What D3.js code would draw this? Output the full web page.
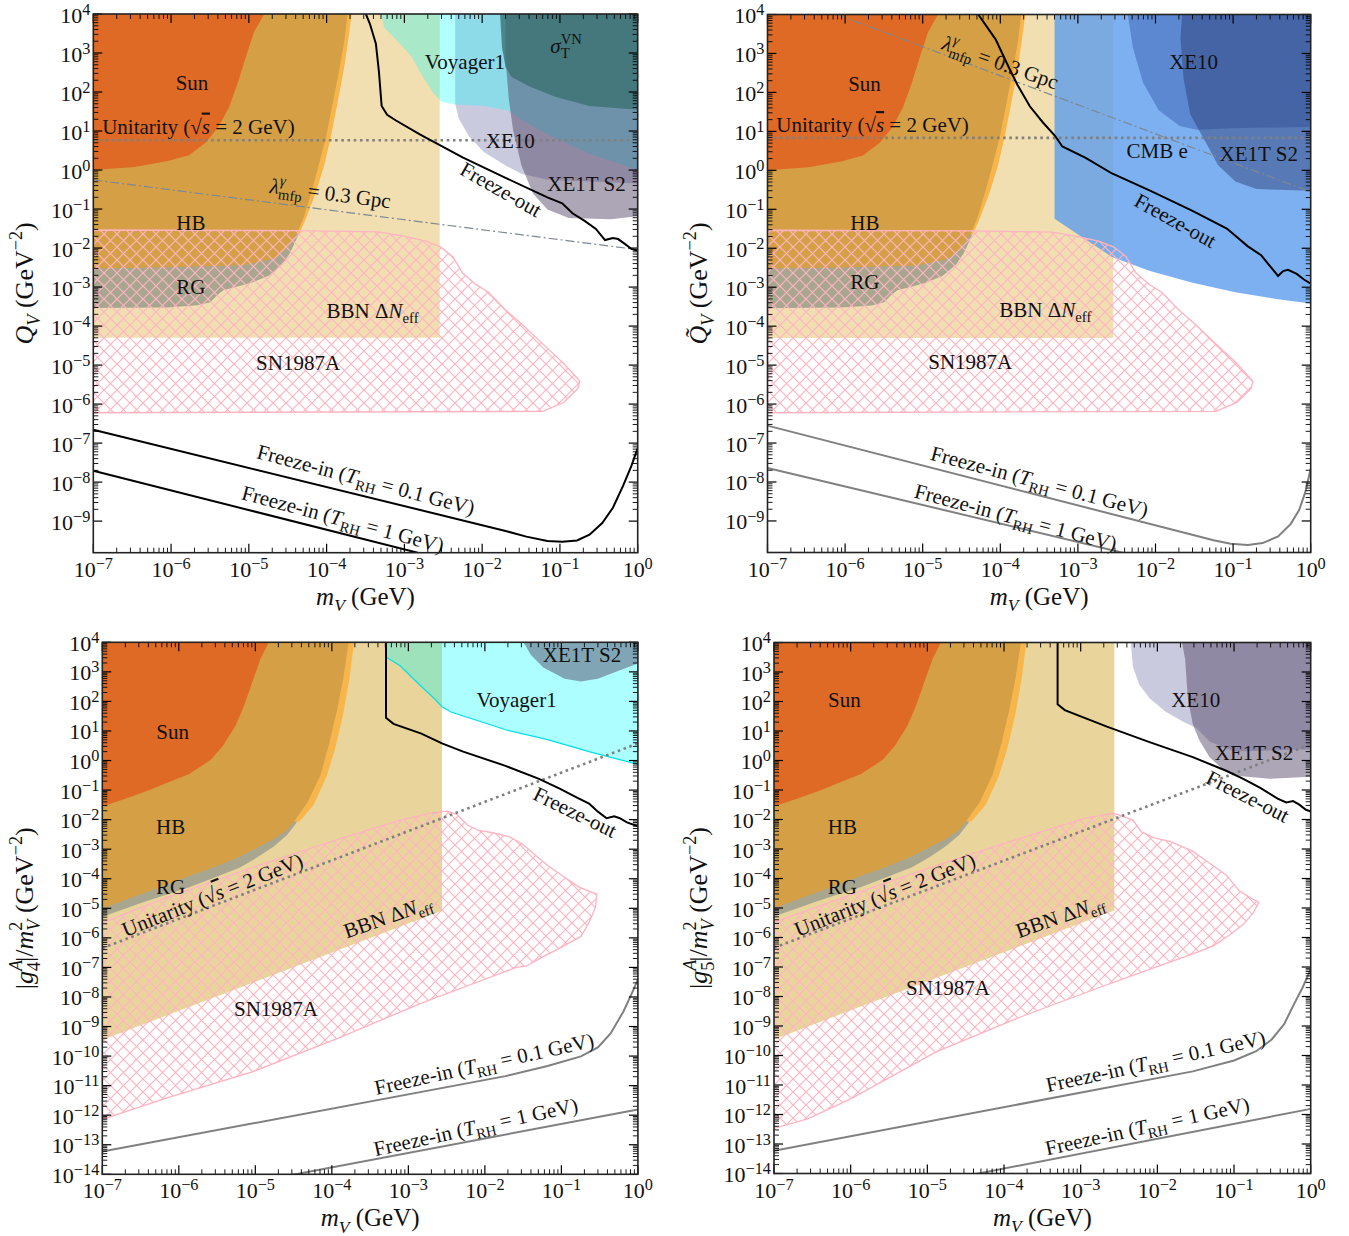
<!DOCTYPE html>
<html><head><meta charset="utf-8">
<script src="https://cdn.jsdelivr.net/npm/d3@7"></script>
<style>
body{margin:0;background:#fff;}
svg text{font-family:"Liberation Serif","DejaVu Serif",serif;fill:#111;}
</style></head><body>
<script>
// ---------------- DATA (mass in GeV, coupling in GeV^-2) ----------------
const X_TICKS=[1e-7,1e-6,1e-5,1e-4,1e-3,1e-2,1e-1,1];
const X_TICK_EXP=['−7','−6','−5','−4','−3','−2','−1','0'];
const Y_TICKS_TOP=[1e4,1e3,1e2,1e1,1,1e-1,1e-2,1e-3,1e-4,1e-5,1e-6,1e-7,1e-8,1e-9];
const Y_EXP_TOP=['4','3','2','1','0','−1','−2','−3','−4','−5','−6','−7','−8','−9'];
const Y_TICKS_BOT=[1e4,1e3,1e2,1e1,1,1e-1,1e-2,1e-3,1e-4,1e-5,1e-6,1e-7,1e-8,1e-9,1e-10,1e-11,1e-12,1e-13,1e-14];
const Y_EXP_BOT=['4','3','2','1','0','−1','−2','−3','−4','−5','−6','−7','−8','−9','−10','−11','−12','−13','−14'];

// top row shared (Q_V and Q~_V)
const sunTop=[[1e-7,1e4],[1e-7,1.0],[3.4e-7,1.2],[9.1e-7,1.7],[1.7e-6,2.4],[2.8e-6,5.1],[4.1e-6,13],[5.6e-6,42],[7.2e-6,170],[9.3e-6,870],[1.17e-5,3500],[1.58e-5,1e4]];
const hbTop=[[1e-7,1e4],[1.86e-4,1e4],[1.7e-4,2200],[1.44e-4,340],[1.2e-4,52],[1.0e-4,8.1],[7.9e-5,1.3],[6.3e-5,0.25],[5.1e-5,0.062],[4.2e-5,0.0245],[3.2e-5,0.0107],[2.1e-5,0.0054],[8.7e-6,0.0036],[9.1e-7,0.0032],[1e-7,0.003]];
const bandTop=[[1e-7,1e4],[2.1e-4,1e4],[1.9e-4,2200],[1.65e-4,340],[1.38e-4,52],[1.15e-4,8.1],[9.3e-5,1.3],[7.2e-5,0.25],[5.5e-5,0.062],[4.4e-5,0.022],[4.0e-5,0.03],[1e-7,0.03]];
const rgTop=[[1e-7,2.9e-4],[9.1e-7,3.0e-4],[2.2e-6,3.4e-4],[3.2e-6,4.1e-4],[3.9e-6,6.2e-4],[4.7e-6,8.3e-4],[6.8e-6,1e-3],[1.1e-5,1.3e-3],[1.8e-5,1.95e-3],[2.7e-5,3.8e-3],[3.4e-5,7.6e-3],[4.3e-5,0.021],[4.0e-5,0.05],[1e-7,0.05]];
const bbnTop=[[1e-7,1e4],[2.85e-3,1e4],[2.85e-3,5.0e-5],[1e-7,5.0e-5]];
const snTop=[[1e-7,0.029],[3.9e-5,0.028],[4.7e-4,0.026],[1e-3,0.020],[1.9e-3,0.015],[2.9e-3,0.0107],[4.2e-3,0.006],[5.6e-3,2.3e-3],[8.3e-3,1.17e-3],[0.012,7.4e-4],[0.02,2.6e-4],[0.032,1.15e-4],[0.06,3.5e-5],[0.112,1.1e-5],[0.18,3.9e-6],[0.17,2.5e-6],[0.112,1.1e-6],[0.06,6.5e-7],[1e-7,6.0e-7]];

// panel 1: Q_V
const voyagerQ=[[5.0e-4,1e4],[5.5e-4,4500],[7.8e-4,2200],[1.2e-3,870],[1.74e-3,240],[2.35e-3,95],[3.0e-3,56],[4.5e-3,48],[0.0105,44],[0.022,33],[0.037,16.6],[0.069,8.1],[0.24,2.6],[1,1.0],[1,1e4]];
const xe10Q=[[4.5e-3,1e4],[4.5e-3,50],[5.0e-3,21],[6.8e-3,7.2],[0.0105,2.9],[0.02,1.3],[0.032,0.8],[0.069,0.56],[1,0.45],[1,1e4]];
const xe1tQ=[[0.02,1e4],[0.02,690],[0.022,66],[0.025,10.5],[0.032,1.3],[0.045,0.25],[0.069,0.098],[0.13,0.059],[0.45,0.055],[1,0.065],[1,1e4]];
const sigmaQ=[[0.017,1e4],[0.018,1380],[0.02,430],[0.024,240],[0.042,135],[0.087,76],[0.24,44],[1,35],[1,1e4]];
const freezeOutQ=[[3.2e-4,1e4],[3.6e-4,5600],[4.3e-4,1740],[4.7e-4,340],[5.1e-4,44],[6.0e-4,26],[7.8e-4,18.6],[1.6e-3,8.1],[5.6e-3,2.1],[0.02,0.63],[0.069,0.2],[0.107,0.14],[0.145,0.078],[0.21,0.049],[0.29,0.031],[0.38,0.016],[0.48,0.018],[0.56,0.017],[0.69,0.0126],[0.83,0.0095],[1,0.0085]];
const freezeIn01Q=[[1e-7,2.2e-7],[0.02,5.6e-10],[0.037,4e-10],[0.069,3.1e-10],[0.107,2.95e-10],[0.166,3.2e-10],[0.24,4.5e-10],[0.35,8.9e-10],[0.48,2.2e-9],[0.65,8.1e-9],[0.83,2.6e-8],[1,7.4e-8]];
const freezeIn1Q=[[1e-7,1.95e-8],[3.2e-3,1.05e-10]];
const lambdaQ=[[1e-7,0.56],[1,0.0091]];
const unitQ=[[1e-7,5.8],[1,5.8]];

// panel 2: Q~_V
const cmbQt=[[5.0e-4,1e4],[5.0e-4,0.057],[1.1e-3,0.02],[2.75e-3,6.0e-3],[8.5e-3,2.6e-3],[0.03,1.3e-3],[0.107,7.4e-4],[0.38,4.9e-4],[1,3.8e-4],[1,1e4]];
const xe10Qt=[[4.4e-3,1e4],[5.1e-3,1450],[6.9e-3,180],[0.011,35],[0.0205,13.8],[0.034,11],[0.1,12],[1,13],[1,1e4]];
const xe1tQt=[[0.022,1e4],[0.021,2300],[0.023,220],[0.028,28],[0.036,11],[0.047,4.3],[0.064,1.35],[0.107,0.52],[0.2,0.33],[1,0.3],[1,1e4]];
const freezeOutQt=[[5.2e-5,1e4],[8.7e-5,2300],[1.28e-4,450],[1.66e-4,158],[2.4e-4,44],[3.5e-4,17.4],[5.1e-4,7.6],[6.3e-4,4.1],[1.26e-3,2.1],[2.75e-3,0.83],[8.5e-3,0.30],[0.03,0.091],[0.083,0.032],[0.107,0.021],[0.155,0.0112],[0.23,6.6e-3],[0.31,3.2e-3],[0.38,1.95e-3],[0.44,2.6e-3],[0.51,2.8e-3],[0.66,2.2e-3],[0.81,1.6e-3],[1,1.23e-3]];
const freezeIn01Qt=[[1e-7,2.8e-7],[0.056,3.2e-10],[0.093,2.6e-10],[0.155,2.4e-10],[0.24,2.7e-10],[0.38,4e-10],[0.55,8.3e-10],[0.71,1.9e-9],[0.85,5.4e-9],[1,2.2e-8]];
const freezeIn1Qt=[[1e-7,2.3e-8],[6.3e-3,1.2e-10]];
const lambdaQt=[[7.8e-7,1e4],[1,0.28]];
const unitQt=[[1e-7,6.8],[1,6.8]];

// bottom row shared (g4, g5)
const sunBot=[[1e-7,1e4],[1e-7,0.028],[2.0e-7,0.051],[3.9e-7,0.095],[7.2e-7,0.18],[1.37e-6,0.35],[2.6e-6,1.05],[3.8e-6,3.2],[5.5e-6,15],[7.1e-6,70],[9.1e-6,440],[1.17e-5,2750],[1.5e-5,1e4]];
const hbBot=[[1e-7,1e4],[1e-7,9.8e-6],[3.9e-7,3.6e-5],[1.37e-6,1.23e-4],[3.3e-6,2.8e-4],[6.3e-6,5.7e-4],[1.05e-5,1.12e-3],[1.74e-5,2.2e-3],[2.6e-5,4.5e-3],[3.3e-5,9.6e-3],[4.8e-5,0.038],[7.1e-5,0.32],[9.1e-5,3.2],[1.17e-4,51],[1.41e-4,590],[1.66e-4,1e4]];
const bandBot=[[1e-7,1e4],[1e-7,1e-4],[3.0e-5,0.0075],[3.8e-5,8.9e-3],[5.8e-5,0.032],[8.5e-5,0.28],[1.1e-4,2.4],[1.41e-4,38],[1.7e-4,590],[1.95e-4,1e4]];
const rgBot=[[1e-7,5.2e-6],[3.9e-7,1.8e-5],[1.37e-6,5.2e-5],[3.3e-6,1.23e-4],[6.3e-6,2.4e-4],[1.05e-5,5.2e-4],[1.74e-5,1.23e-3],[2.6e-5,3e-3],[3.5e-5,8.1e-3],[3.0e-5,0.01],[1e-7,1e-4]];
const bbnBot=[[1e-7,1e4],[2.75e-3,1e4],[2.75e-3,8.3e-6],[1e-7,3.5e-10]];

// panel 3: g4
const snG4=[[1e-7,3.3e-6],[7.2e-7,2.4e-5],[9.1e-6,2.4e-4],[1.17e-4,2.1e-3],[7.8e-4,9.6e-3],[1.9e-3,0.0166],[3.2e-3,0.0195],[4.3e-3,0.015],[5.9e-3,6.6e-3],[8.1e-3,4.4e-3],[0.0126,3.6e-3],[0.021,2.6e-3],[0.031,1.5e-3],[0.045,6.5e-4],[0.066,2.8e-4],[0.11,1.12e-4],[0.17,5.2e-5],[0.23,3.8e-5],[0.29,3e-5],[0.28,1.12e-5],[0.23,3.3e-6],[0.18,1.12e-6],[0.095,4.5e-7],[0.051,1.95e-7],[0.035,1.12e-7],[0.025,9.8e-8],[9.8e-3,3.9e-8],[1.48e-3,6.2e-9],[1.17e-4,3.9e-10],[9.1e-6,2.9e-11],[7.2e-7,3.9e-12],[1e-7,7.2e-13]];
const voyG4=[[5.1e-4,1e4],[5.1e-4,3200],[7.8e-4,1600],[1.48e-3,320],[2.15e-3,130],[2.75e-3,66],[3.6e-3,44],[5.2e-3,32],[9.8e-3,19],[0.0186,11],[0.066,5.1],[0.23,2.0],[1,0.74],[1,1e4]];
const voyEdgeG4=[[5.1e-4,3200],[7.8e-4,1600],[1.48e-3,320],[2.15e-3,130],[2.75e-3,66],[3.6e-3,44],[5.2e-3,32],[9.8e-3,19],[0.0186,11],[0.066,5.1],[0.23,2.0],[1,0.74]];
const xe1tG4=[[0.032,1e4],[0.040,3700],[0.058,1400],[0.11,590],[0.18,470],[0.30,590],[0.56,1100],[1,1900],[1,1e4]];
const freezeOutG4=[[5.1e-4,1e4],[5.1e-4,28],[6.4e-4,17.4],[1.48e-3,8.1],[2.75e-3,3.8],[5.2e-3,2.0],[0.0186,0.66],[0.051,0.24],[0.095,0.112],[0.16,0.056],[0.23,0.035],[0.30,0.0186],[0.39,0.0112],[0.49,0.0129],[0.58,0.0112],[0.72,8.1e-3],[1,6e-3]];
const unitG4=[[1e-7,4.5e-7],[1,3.8]];
const freezeIn01G4=[[1e-7,5.9e-14],[0.0186,2.1e-11],[0.066,4.6e-11],[0.18,9.8e-11],[0.30,1.95e-10],[0.44,5.8e-10],[0.65,3.3e-9],[0.83,1.3e-8],[1,3.9e-8]];
const freezeIn1G4=[[2.5e-5,8.7e-15],[1,1.55e-12]];

// panel 4: g5
const snG5=[[1e-7,3.3e-6],[1e-6,2.8e-5],[1.32e-5,2.8e-4],[1.7e-4,2.4e-3],[1.15e-3,0.0112],[2.2e-3,0.015],[2.75e-3,0.016],[4.8e-3,9.6e-3],[6.2e-3,3.8e-3],[9.1e-3,2.4e-3],[0.015,1.78e-3],[0.029,8.3e-4],[0.048,3.3e-4],[0.079,1.32e-4],[0.117,3.8e-5],[0.17,2.1e-5],[0.21,1.55e-5],[0.18,7.1e-6],[0.132,2.8e-6],[0.091,1.32e-6],[0.054,5.2e-7],[0.029,2.8e-7],[7.9e-3,8.3e-8],[2.2e-3,2.5e-8],[1.7e-4,2.1e-9],[1.32e-5,1.35e-10],[1e-6,3.4e-12],[2.8e-7,7.2e-13],[1e-7,3.4e-13]];
const xe10G5=[[4.5e-3,1e4],[4.8e-3,1500],[5.8e-3,380],[7.9e-3,130],[0.013,44],[0.022,20],[0.032,13],[0.048,4.4],[0.10,2.0],[1,2.4],[1,1e4]];
const xe1tG5=[[0.021,1e4],[0.023,2750],[0.025,130],[0.029,17],[0.035,5.1],[0.048,1.3],[0.071,0.51],[0.117,0.30],[0.29,0.24],[1,0.28],[1,1e4]];
const freezeOutG5=[[5.0e-4,1e4],[5.0e-4,81],[6.2e-4,51],[2.2e-3,14],[7.9e-3,4.2],[0.029,1.3],[0.079,0.45],[0.132,0.24],[0.22,0.118],[0.37,0.051],[0.48,0.038],[0.59,0.042],[0.71,0.032],[0.85,0.022],[1,0.0186]];
const unitG5=[[1e-7,4.5e-7],[1,3.5]];
const freezeIn01G5=[[1e-7,5.9e-14],[0.029,2.9e-11],[0.10,6.8e-11],[0.195,1.4e-10],[0.31,3.5e-10],[0.45,1.15e-9],[0.62,6.2e-9],[0.79,2.1e-8],[1,8.3e-8]];
const freezeIn1G5=[[2.5e-5,7.3e-15],[1,1.55e-12]];

// ---------------- text helpers ----------------
const n=t=>({t}), it=t=>({t,it:1}), sb=(t,o={})=>Object.assign({t,sh:'sub'},o), sp=(t,o={})=>Object.assign({t,sh:'sup'},o);
const T_FI01=[n('Freeze-in ('),it('T'),sb('RH'),n(' = 0.1 GeV)')];
const T_FI1=[n('Freeze-in ('),it('T'),sb('RH'),n(' = 1 GeV)')];
const T_UNIT=[n('Unitarity ('),n('√'),{t:'s',it:1,ov:1},n(' = 2 GeV)')];
const T_BBN=[n('BBN Δ'),it('N'),sb('eff')];
const T_LAM=[it('λ'),sp('γ',{it:1}),sb('mfp',{back:1}),n(' = 0.3 Gpc')];
const T_SIG=[it('σ'),sp('VN'),sb('T',{back:1})];

const svg=d3.select('body').append('svg').attr('width',1349).attr('height',1236);
const defs=svg.append('defs');
const hp=defs.append('pattern').attr('id','hatch').attr('patternUnits','userSpaceOnUse').attr('width',13).attr('height',13);
hp.append('path').attr('d','M0,0L13,13M13,0L0,13').attr('stroke','#ffb3c1').attr('stroke-width',1.2).attr('fill','none');

function rich(g,segs,fs,anchor,supf,supUp){
  const sf=supf||0.7, su=supUp||0.42;
  const t=g.append('text').attr('font-size',fs).attr('text-anchor',anchor||'middle');
  let cur=0, prev=null;
  segs.forEach(s=>{
    const target=s.sh==='sub'?fs*0.25:s.sh==='sup'?-fs*su:0;
    const ts=t.append('tspan').text(s.t).attr('dy',target-cur);
    cur=target;
    if(s.sh) ts.attr('font-size',fs*sf);
    if(s.it) ts.attr('font-style','italic');
    if(s.ov) ts.attr('text-decoration','overline');
    if(s.back&&prev){ts.attr('dx',-prev.node().getComputedTextLength());}
    prev=ts;
  });
  return t;
}

const C={sun:'#df6a25',hb:'#d5a045',band:'#f7b64c',rg:'#a9a690',bbnT:'#f2dfb1',bbnB:'#e9d59c'};
const LFS=21;

const PANELS=[
 {box:[93.3,637.7,14,552.7],ymin:1.55e-10,yt:Y_TICKS_TOP,ye:Y_EXP_TOP,ytx:33,
  ytitle:[it('Q'),sb('V',{it:1}),n(' (GeV'),sp('−2'),n(')')],
  areas:[[bbnTop,C.bbnT,1],[bandTop,C.band,1],[rgTop,C.rg,1],[hbTop,C.hb,1],[sunTop,C.sun,1],
         [xe10Q,'#8a8ab8',0.45],[voyagerQ,'#00ffff',0.3],[xe1tQ,'#4a3a5e',0.45],[sigmaQ,'#3b7272',0.8]],
  sn:snTop,
  lines:[[lambdaQ,'#7c8894',1.2,'9,3,2,3'],[unitQ,'#808080',2.6,'2.6,3.6'],[freezeOutQ,'#000',2,null],[freezeIn01Q,'#000',2,null],[freezeIn1Q,'#000',2,null]],
  labels:[[[n('Sun')],1.86e-6,170,0],[T_UNIT,1.3e-7,13,0,'start'],[[n('HB')],1.8e-6,0.044,0],[[n('RG')],1.8e-6,9.8e-4,0],
   [T_BBN,3.9e-4,2.45e-4,0],[[n('SN1987A')],4.3e-5,1.12e-5,0],[T_LAM,1.12e-4,0.25,7.3],[[n('Freeze-out')],0.0174,0.316,29.6],
   [[n('Voyager1')],6.0e-3,590,0],[[n('XE10')],0.023,5.5,0],[[n('XE1T S2')],0.22,0.43,0],[T_SIG,0.12,1550,0],
   [T_FI01,3.2e-4,1.15e-8,14.8],[T_FI1,1.62e-4,1.12e-9,15]]},
 {box:[767.5,1310.7,14.5,552.5],ymin:1.55e-10,yt:Y_TICKS_TOP,ye:Y_EXP_TOP,ytx:707,
  ytitle:[it('Q\u0303'),sb('V',{it:1}),n(' (GeV'),sp('−2'),n(')')],
  areas:[[bbnTop,C.bbnT,1],[bandTop,C.band,1],[rgTop,C.rg,1],[hbTop,C.hb,1],[sunTop,C.sun,1],
         [cmbQt,'#5d9cec',0.8],[xe10Qt,'#3c5fb4',0.5],[xe1tQt,'#2a3a70',0.45]],
  sn:snTop,
  lines:[[lambdaQt,'#7c8894',1.2,'9,3,2,3'],[unitQt,'#808080',2.6,'2.6,3.6'],[freezeOutQt,'#000',2,null],[freezeIn01Qt,'#808080',2,null],[freezeIn1Qt,'#808080',2,null]],
  labels:[[[n('Sun')],1.78e-6,166,0],[T_UNIT,1.3e-7,14.5,0,'start'],[[n('HB')],1.8e-6,0.044,0],[[n('RG')],1.8e-6,1.38e-3,0],
   [T_BBN,3.8e-4,2.57e-4,0],[[n('SN1987A')],4.1e-5,1.17e-5,0],[T_LAM,1.0e-4,575,19.5],[[n('Freeze-out')],0.018,0.051,29],
   [[n('XE10')],0.031,600,0],[[n('CMB e')],0.0105,3.2,0],[[n('XE1T S2')],0.214,2.7,0],
   [T_FI01,3.2e-4,1.02e-8,15],[T_FI1,1.58e-4,1.23e-9,15]]},
 {box:[102.3,637.9,642.3,1174.3],ymin:1e-14,yt:Y_TICKS_BOT,ye:Y_EXP_BOT,ytx:33,
  ytitle:[n('|'),it('g'),sp('A',{it:1}),sb('4',{back:1}),n('|/'),it('m'),sp('2'),sb('V',{back:1,it:1}),n(' (GeV'),sp('−2'),n(')')],
  areas:[[bbnBot,C.bbnB,1],[bandBot,C.band,1],[rgBot,C.rg,1],[hbBot,C.hb,1],[sunBot,C.sun,1],
         [voyG4,'#00ffff',0.32],[xe1tG4,'#4a3a5e',0.45]],
  sn:snG4,
  lines:[[voyEdgeG4,'#00e0e8',1.2,null],[unitG4,'#808080',2.6,'2.6,3.6'],[freezeOutG4,'#000',2,null],[freezeIn01G4,'#808080',2,null],[freezeIn1G4,'#808080',2,null]],
  labels:[[[n('Sun')],8.3e-7,8.9,0],[[n('HB')],7.8e-7,5.6e-3,0],[[n('RG')],7.8e-7,5.2e-5,0],[T_UNIT,2.75e-6,2.8e-5,-21.7],
   [T_BBN,5.4e-4,5.2e-6,-19.4],[[n('SN1987A')],1.86e-5,3.9e-9,0],[[n('Voyager1')],0.026,110,0],[[n('XE1T S2')],0.186,3700,0],
   [[n('Freeze-out')],0.151,0.0178,26],[T_FI01,9.8e-3,5.4e-11,-12.4],[T_FI1,7.6e-3,4e-13,-12.4]]},
 {box:[774,1310.7,642.5,1173.5],ymin:1e-14,yt:Y_TICKS_BOT,ye:Y_EXP_BOT,ytx:707,
  ytitle:[n('|'),it('g'),sp('A',{it:1}),sb('5',{back:1}),n('|/'),it('m'),sp('2'),sb('V',{back:1,it:1}),n(' (GeV'),sp('−2'),n(')')],
  areas:[[bbnBot,C.bbnB,1],[bandBot,C.band,1],[rgBot,C.rg,1],[hbBot,C.hb,1],[sunBot,C.sun,1],
         [xe10G5,'#8a8ab8',0.45],[xe1tG5,'#4a3a5e',0.45]],
  sn:snG5,
  lines:[[unitG5,'#808080',2.6,'2.6,3.6'],[freezeOutG5,'#000',2,null],[freezeIn01G5,'#808080',2,null],[freezeIn1G5,'#808080',2,null]],
  labels:[[[n('Sun')],8.3e-7,110,0],[[n('HB')],7.8e-7,5.6e-3,0],[[n('RG')],7.8e-7,5.2e-5,0],[T_UNIT,2.8e-6,2.8e-5,-21.7],
   [T_BBN,5.4e-4,5.2e-6,-19.4],[[n('SN1987A')],1.86e-5,1.9e-8,0],[[n('XE10')],0.0316,110,0],[[n('XE1T S2')],0.182,1.74,0],
   [[n('Freeze-out')],0.151,0.06,27],[T_FI01,9.5e-3,6.3e-11,-12.4],[T_FI1,7.4e-3,4e-13,-12.4]]}
];

PANELS.forEach((P,pi)=>{
  const [L,R,Tp,B]=P.box;
  const x=d3.scaleLog().domain([1e-7,1]).range([L,R]);
  const y=d3.scaleLog().domain([P.ymin,1e4]).range([B,Tp]);
  const cid='clip'+pi;
  defs.append('clipPath').attr('id',cid).append('rect').attr('x',L).attr('y',Tp).attr('width',R-L).attr('height',B-Tp);
  const g=svg.append('g').attr('clip-path',`url(#${cid})`);
  const area=d3.line().x(d=>x(d[0])).y(d=>y(d[1])).curve(d3.curveLinearClosed);
  const line=d3.line().x(d=>x(d[0])).y(d=>y(d[1]));
  P.areas.forEach(([d,c,o])=>g.append('path').attr('d',area(d)).attr('fill',c).attr('fill-opacity',o).attr('stroke','none'));
  g.append('path').attr('d',area(P.sn)).attr('fill','url(#hatch)').attr('stroke','#ffb3c1').attr('stroke-width',1.3);
  P.lines.forEach(([d,c,w,da])=>{const p=g.append('path').attr('d',line(d)).attr('fill','none').attr('stroke',c).attr('stroke-width',w);if(da)p.attr('stroke-dasharray',da);});
  const lg=svg.append('g');
  P.labels.forEach(([segs,vx,vy,rot,anc])=>{
    const gg=lg.append('g').attr('transform',`translate(${x(vx)},${y(vy)}) rotate(${rot})`);
    rich(gg,segs,LFS,anc).attr('y',7);
  });
  const ax=svg.append('g').attr('stroke','#000');
  const minorX=[],minorY=[];
  X_TICKS.slice(0,-1).forEach(v=>{for(let k=2;k<10;k++)minorX.push(v*k);});
  P.yt.slice(1).forEach(v=>{for(let k=2;k<10;k++){const m=v*k;if(m>=P.ymin)minorY.push(m);}});
  X_TICKS.forEach(v=>{ax.append('line').attr('x1',x(v)).attr('x2',x(v)).attr('y1',B).attr('y2',B-9).attr('stroke-width',1.2);
    ax.append('line').attr('x1',x(v)).attr('x2',x(v)).attr('y1',Tp).attr('y2',Tp+9).attr('stroke-width',1.2);});
  minorX.forEach(v=>{ax.append('line').attr('x1',x(v)).attr('x2',x(v)).attr('y1',B).attr('y2',B-5).attr('stroke-width',0.9);
    ax.append('line').attr('x1',x(v)).attr('x2',x(v)).attr('y1',Tp).attr('y2',Tp+5).attr('stroke-width',0.9);});
  P.yt.forEach(v=>{ax.append('line').attr('y1',y(v)).attr('y2',y(v)).attr('x1',L).attr('x2',L+9).attr('stroke-width',1.2);
    ax.append('line').attr('y1',y(v)).attr('y2',y(v)).attr('x1',R).attr('x2',R-9).attr('stroke-width',1.2);});
  minorY.forEach(v=>{ax.append('line').attr('y1',y(v)).attr('y2',y(v)).attr('x1',L).attr('x2',L+5).attr('stroke-width',0.9);
    ax.append('line').attr('y1',y(v)).attr('y2',y(v)).attr('x1',R).attr('x2',R-5).attr('stroke-width',0.9);});
  svg.append('rect').attr('x',L).attr('y',Tp).attr('width',R-L).attr('height',B-Tp).attr('fill','none').attr('stroke','#222').attr('stroke-width',1.6);
  X_TICKS.forEach((v,i)=>{rich(svg.append('g').attr('transform',`translate(${x(v)},${B+24})`),[n('10'),sp(X_TICK_EXP[i])],22,'middle',0.74,0.36);});
  P.yt.forEach((v,i)=>{rich(svg.append('g').attr('transform',`translate(${L-3},${y(v)+8.5})`),[n('10'),sp(P.ye[i])],22,'end',0.74,0.36);});
  rich(svg.append('g').attr('transform',`translate(${(L+R)/2},${B+52})`),[it('m'),sb('V',{it:1}),n(' (GeV)')],25,'middle');
  rich(svg.append('g').attr('transform',`translate(${P.ytx},${(Tp+B)/2}) rotate(-90)`),P.ytitle,26,'middle');
});
</script>
</body></html>
